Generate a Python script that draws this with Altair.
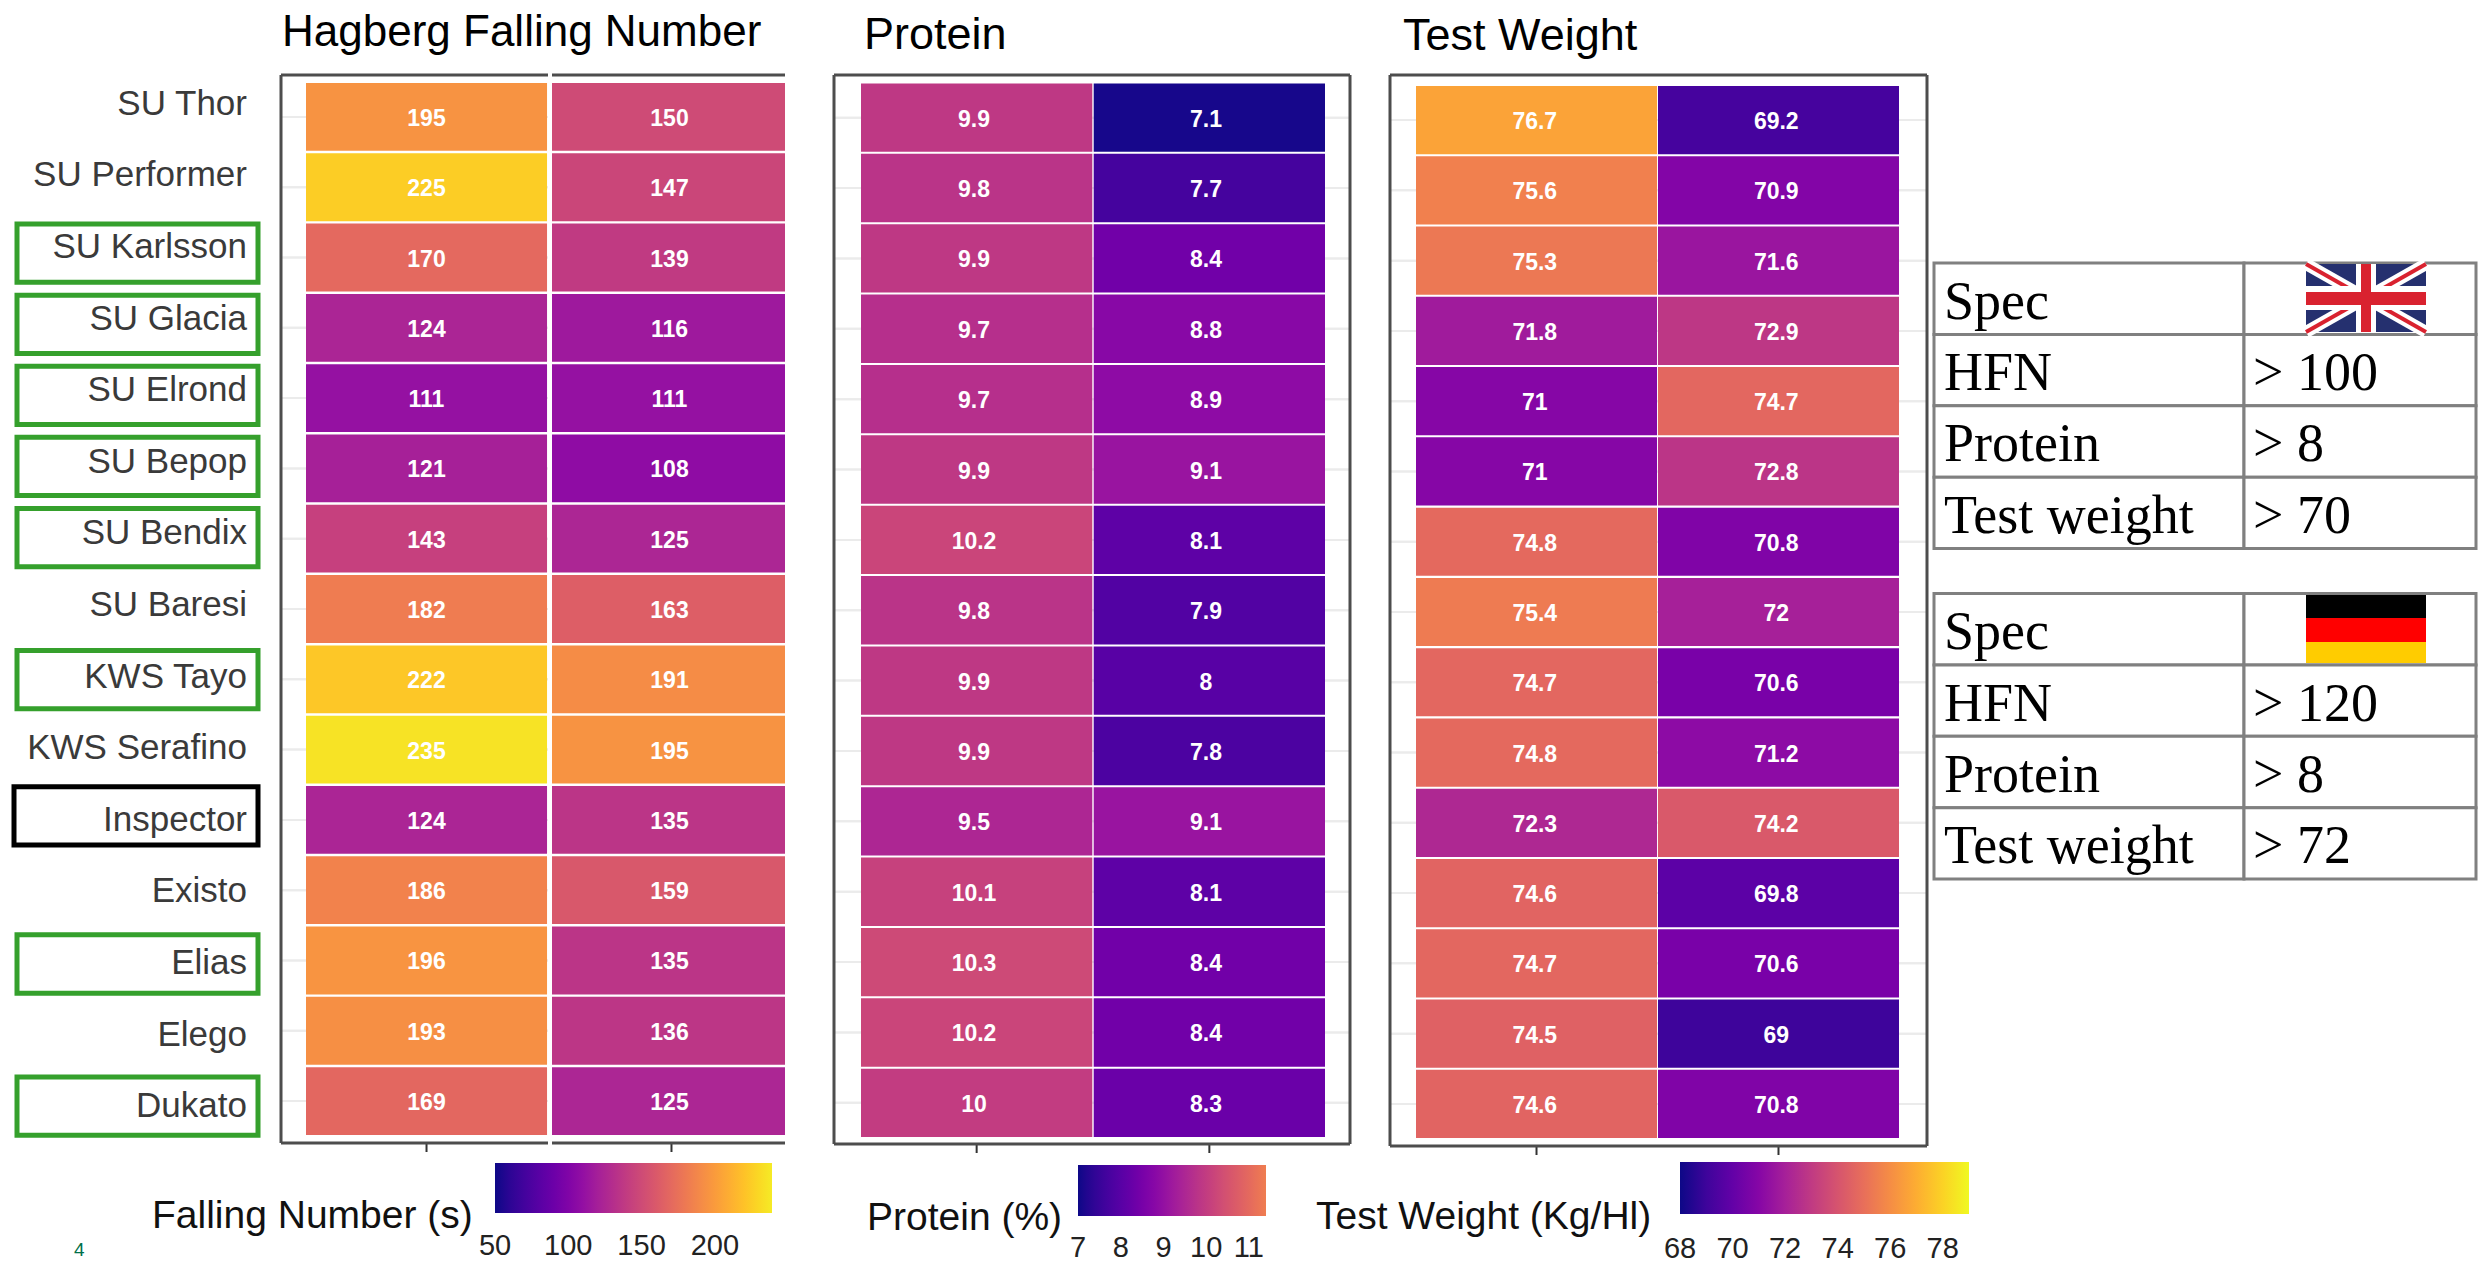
import altair as alt
import pandas as pd

VARIETIES = ["SU Thor", "SU Performer", "SU Karlsson", "SU Glacia", "SU Elrond", "SU Bepop", "SU Bendix",
             "SU Baresi", "KWS Tayo", "KWS Serafino", "Inspector", "Existo", "Elias", "Elego", "Dukato"]
TRIALS = ["A", "B"]
HFN_A = [195, 225, 170, 124, 111, 121, 143, 182, 222, 235, 124, 186, 196, 193, 169]
HFN_B = [150, 147, 139, 116, 111, 108, 125, 163, 191, 195, 135, 159, 135, 136, 125]
PROT_A = [9.9, 9.8, 9.9, 9.7, 9.7, 9.9, 10.2, 9.8, 9.9, 9.9, 9.5, 10.1, 10.3, 10.2, 10]
PROT_B = [7.1, 7.7, 8.4, 8.8, 8.9, 9.1, 8.1, 7.9, 8, 7.8, 9.1, 8.1, 8.4, 8.4, 8.3]
TW_A = [76.7, 75.6, 75.3, 71.8, 71, 71, 74.8, 75.4, 74.7, 74.8, 72.3, 74.6, 74.7, 74.5, 74.6]
TW_B = [69.2, 70.9, 71.6, 72.9, 74.7, 72.8, 70.8, 72, 70.6, 71.2, 74.2, 69.8, 70.6, 69, 70.8]
BOXED = ["SU Karlsson", "SU Glacia", "SU Elrond", "SU Bepop", "SU Bendix", "KWS Tayo", "Elias", "Dukato"]
BLACK_BOXED = ["Inspector"]
SPEC_NAMES = ["Spec", "HFN", "Protein", "Test weight"]
UK_SPEC = ["", "> 100", "> 8", "> 70"]
DE_SPEC = ["", "> 120", "> 8", "> 72"]

SANS = "Liberation Sans"
SERIF = "Liberation Serif"
FRAME = "#4d4d4d"
H = 1248


def one(**kw):
    return pd.DataFrame([kw or {"k": 0}])


def caption(text, x, y, size, font=SANS, color="#111111", align="left"):
    return alt.Chart(one(t=text)).mark_text(font=font, fontSize=size, color=color, align=align,
                                            baseline="middle").encode(
        text="t:N", x=alt.value(x), y=alt.value(y))


def hrule(x, x2, y, color=FRAME, w=3):
    return alt.Chart(one()).mark_rule(color=color, strokeWidth=w).encode(
        x=alt.value(x), x2=alt.value(x2), y=alt.value(y))


def vrule(x, y, y2, color=FRAME, w=3):
    return alt.Chart(one()).mark_rule(color=color, strokeWidth=w).encode(
        x=alt.value(x), y=alt.value(y), y2=alt.value(y2))


def box(x, x2, y, y2, fill):
    return alt.Chart(one()).mark_rect(fill=fill).encode(
        x=alt.value(x), x2=alt.value(x2), y=alt.value(y), y2=alt.value(y2))


def panel(a, b, fmt_vals, width, frame_w, cell_x, cell_y, frame_y, x_pad, y_pad, text_dx,
          color_scale, leg_dom, leg_x, leg_y, leg_len, leg_thick, leg_ticks, leg_labels, leg_label_y,
          title, title_x, title_y, title_size, leg_title, leg_title_x, leg_title_y, open_right=False):
    df = pd.DataFrame({
        "Variety": VARIETIES * 2,
        "Trial": ["A"] * 15 + ["B"] * 15,
        "v": a + b,
    })
    yscale = alt.Scale(domain=VARIETIES, range=cell_y, paddingInner=y_pad, paddingOuter=0)
    xscale = alt.Scale(domain=TRIALS, range=cell_x, paddingInner=x_pad, paddingOuter=0)
    X = alt.X("Trial:N", scale=xscale, axis=None)
    Y = alt.Y("Variety:N", scale=yscale, axis=None)

    grid = alt.Chart(df).mark_rule(color="#ebebeb", strokeWidth=2).encode(
        y=Y, x=alt.value(0), x2=alt.value(frame_w))
    cells = alt.Chart(df).mark_rect().encode(
        x=X,
        y=alt.Y("Variety:N", scale=yscale,
                axis=alt.Axis(labels=False, title=None, domain=False, ticks=True, tickSize=8,
                              tickColor="#333333", tickWidth=2, grid=False)),
        color=alt.Color("v:Q", scale=color_scale, legend=alt.Legend(
            orient="none", legendX=leg_x, legendY=leg_y, direction="horizontal",
            gradientLength=leg_len, gradientThickness=leg_thick, title=None,
            labelOpacity=0, labelFontSize=1, gradientStrokeWidth=0)),
    )
    txt = alt.Chart(df).mark_text(font=SANS, fontWeight="bold", fontSize=23, color="#ffffff", dy=2,
                                  dx=text_dx).encode(
        x=X, y=Y, text=alt.Text("v:Q", format=fmt_vals))
    xt = alt.Chart(pd.DataFrame({"Trial": TRIALS})).mark_rule(color="#333333", strokeWidth=2).encode(
        x=X, y=alt.value(frame_y[1]), y2=alt.value(frame_y[1] + 9))

    layers = [grid, cells, txt, xt]
    if open_right:
        layers += [
            box(frame_w, width, cell_y[0] - 30, frame_y[1] + 12, "#ffffff"),
            hrule(0, frame_w, frame_y[0]), hrule(0, frame_w, frame_y[1]),
            vrule(0, frame_y[0], frame_y[1]),
            vrule(269, frame_y[0] - 4, frame_y[1] + 4, color="#ffffff", w=4),
        ]
    else:
        layers += [
            hrule(0, frame_w, frame_y[0]), hrule(0, frame_w, frame_y[1]),
            vrule(0, frame_y[0], frame_y[1]), vrule(frame_w, frame_y[0], frame_y[1]),
        ]

    lx = alt.X("t:Q", scale=alt.Scale(domain=leg_dom, range=[leg_x, leg_x + leg_len],
                                      nice=False, zero=False), axis=None)
    tdf = pd.DataFrame({"t": leg_ticks})
    ldf = pd.DataFrame({"t": leg_labels})
    layers += [
        alt.Chart(tdf).mark_rule(color="#ffffff", strokeWidth=2).encode(
            x=lx, y=alt.value(leg_y), y2=alt.value(leg_y + 10)),
        alt.Chart(tdf).mark_rule(color="#ffffff", strokeWidth=2).encode(
            x=lx, y=alt.value(leg_y + leg_thick - 10), y2=alt.value(leg_y + leg_thick)),
        alt.Chart(ldf).mark_text(font=SANS, fontSize=29, color="#222222", baseline="middle").encode(
            x=lx, y=alt.value(leg_label_y), text=alt.Text("t:Q")),
        caption(title, title_x, title_y, title_size, color="#000000"),
        caption(leg_title, leg_title_x, leg_title_y, 39),
    ]
    return alt.layer(*layers).resolve_scale(x="independent").properties(width=width, height=H)


# left labels
lab_y = alt.Y("Variety:N", scale=alt.Scale(domain=VARIETIES, range=[60, 1134], paddingInner=0, paddingOuter=0),
              axis=None)
box_y = alt.Y("Variety:N", scale=alt.Scale(domain=VARIETIES, range=[67.5, 1133.7], paddingInner=0.18,
                                           paddingOuter=0.09), axis=None)
black_y = alt.Y("Variety:N", scale=alt.Scale(domain=VARIETIES, range=[61.5, 1127.7], paddingInner=0.18,
                                             paddingOuter=0.09), axis=None)
label_panel = alt.layer(
    alt.Chart(pd.DataFrame({"Variety": BOXED})).mark_rect(fill="#ffffff", stroke="#35a02c", strokeWidth=5).encode(
        y=box_y, x=alt.value(9), x2=alt.value(250)),
    alt.Chart(pd.DataFrame({"Variety": BLACK_BOXED})).mark_rect(fill="#ffffff", stroke="#000000", strokeWidth=5).encode(
        y=black_y, x=alt.value(6), x2=alt.value(250)),
    alt.Chart(pd.DataFrame({"Variety": VARIETIES})).mark_text(
        font=SANS, fontSize=35, color="#3a3a3a", align="right", baseline="middle").encode(
        y=lab_y, x=alt.value(239), text="Variety:N"),
    caption("4", 66, 1242, 19, color="#00704a"),
).resolve_scale(y="independent").properties(width=273, height=H)

hfn = panel(HFN_A, HFN_B, "d", 553, 504, [25, 511], [75, 1127], [67, 1135], 0.016, 0.035, -1,
            alt.Scale(scheme=alt.SchemeParams(name="plasma", extent=[0, 0.97]), domain=[50, 239]), [50, 239],
            214, 1155, 277, 50, [100, 150, 200], [50, 100, 150, 200], 1238,
            "Hagberg Falling Number", 1, 25, 44, "Falling Number (s)", -129, 1208, open_right=True)
prot = panel(PROT_A, PROT_B, "", 556, 516, [27, 491], [75.5, 1129], [67, 1136], 0.006, 0.03, -3,
             alt.Scale(scheme=alt.SchemeParams(name="plasma", extent=[0, 0.68]), domain=[7, 11.4]), [7, 11.4],
             244, 1157, 188, 51, [8, 9, 10, 11], [7, 8, 9, 10, 11], 1240,
             "Protein", 30, 27, 45, "Protein (%)", 33, 1210)
tw = panel(TW_A, TW_B, "", 540, 537, [26, 509], [78, 1130], [67, 1138], 0.004, 0.03, -2,
           alt.Scale(scheme="plasma", domain=[68, 79]), [68, 79],
           290, 1154, 289, 52, [70, 72, 74, 76, 78], [68, 70, 72, 74, 76, 78], 1241,
           "Test Weight", 13, 28, 45, "Test Weight (Kg/Hl)", -74, 1209)


# spec tables
def table(names, vals, y0, y1):
    rows = ["r0", "r1", "r2", "r3"]
    d = pd.DataFrame({"Row": rows, "Name": names, "Val": vals})
    ys = alt.Y("Row:N", scale=alt.Scale(domain=rows, range=[y0, y1], paddingInner=0, paddingOuter=0), axis=None)
    return [
        alt.Chart(d).mark_rect(fill="#ffffff", stroke="#808080", strokeWidth=3).encode(
            y=ys, x=alt.value(4), x2=alt.value(314)),
        alt.Chart(d).mark_rect(fill="#ffffff", stroke="#808080", strokeWidth=3).encode(
            y=ys, x=alt.value(314), x2=alt.value(546)),
        alt.Chart(d).mark_text(font=SERIF, fontSize=54, color="#000000", align="left", baseline="middle", dy=4).encode(
            y=ys, x=alt.value(14), text="Name:N"),
        alt.Chart(d).mark_text(font=SERIF, fontSize=54, color="#000000", align="left", baseline="middle", dy=4).encode(
            y=ys, x=alt.value(323), text="Val:N"),
    ]


def diag(x, x2, y, y2, color, w):
    return alt.Chart(one()).mark_rule(color=color, strokeWidth=w).encode(
        x=alt.value(x), x2=alt.value(x2), y=alt.value(y), y2=alt.value(y2))


FL, FR = 376, 496
UT, UB = 256, 324
DT, DB = 587, 655
uk = [
    box(FL, FR, UT, UB, "#25306f"),
    diag(FL, FR, UT, UB, "#ffffff", 12), diag(FL, FR, UB, UT, "#ffffff", 12),
    diag(FL, FR, UT, UB, "#d9222f", 4), diag(FL, FR, UB, UT, "#d9222f", 4),
    box(FL + 50, FL + 70, UT, UB, "#ffffff"), box(FL, FR, UT + 22, UT + 46, "#ffffff"),
    box(FL + 55, FL + 65, UT, UB, "#d9222f"), box(FL, FR, UT + 28, UT + 41, "#d9222f"),
]
de = [
    box(FL, FR, DT, DT + 23, "#000000"),
    box(FL, FR, DT + 23, DT + 47, "#ff0000"),
    box(FL, FR, DT + 47, DB, "#ffcc00"),
]
table_panel = alt.layer(
    *table(SPEC_NAMES, UK_SPEC, 255, 540.5),
    *table(SPEC_NAMES, DE_SPEC, 585.5, 871),
    *uk, *de,
).resolve_scale(y="independent").properties(width=548, height=H)

chart = alt.hconcat(label_panel, hfn, prot, tw, table_panel, spacing=0, bounds="flush").resolve_scale(
    color="independent"
).properties(
    padding=0, background="#ffffff"
).configure_view(strokeWidth=0)

chart.save("out.html", embed_options={"renderer": "svg", "actions": False})
